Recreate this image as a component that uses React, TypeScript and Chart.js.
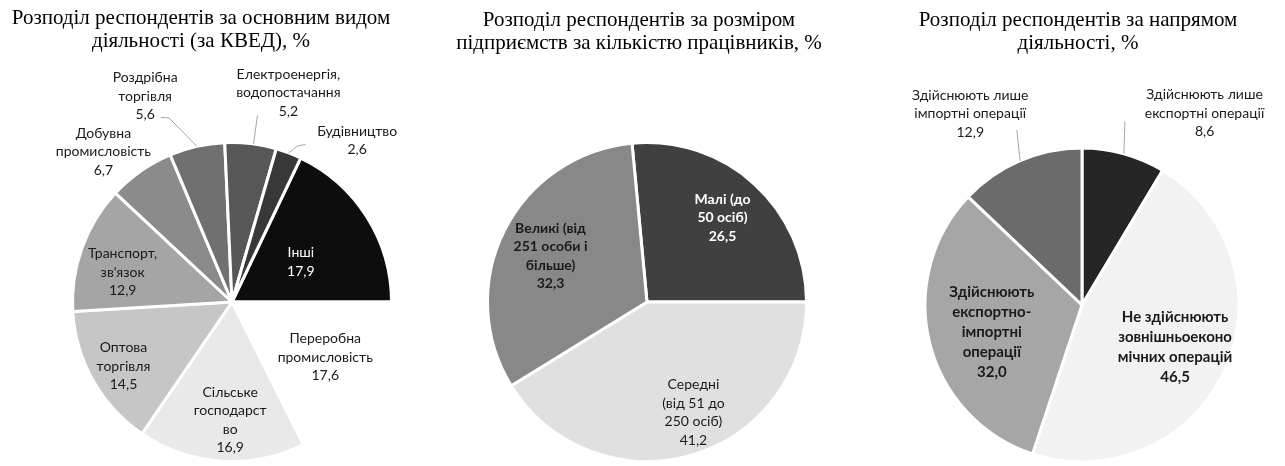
import React, { useEffect, useRef } from "react";
import { Chart, registerables } from "chart.js";

Chart.register(...registerables);

// ---------- DATA ----------
const kvedTitle = ["Розподіл респондентів за основним видом", "діяльності (за КВЕД), %"];
const kvedCategories = [
  ["Інші"],
  ["Переробна", "промисловість"],
  ["Сільське", "господарст", "во"],
  ["Оптова", "торгівля"],
  ["Транспорт,", "зв'язок"],
  ["Добувна", "промисловість"],
  ["Роздрібна", "торгівля"],
  ["Електроенергія,", "водопостачання"],
  ["Будівництво"],
];
const kvedValues = [17.9, 17.6, 16.9, 14.5, 12.9, 6.7, 5.6, 5.2, 2.6];

const sizeTitle = ["Розподіл респондентів за розміром", "підприємств за кількістю працівників, %"];
const sizeCategories = [
  ["Малі (до", "50 осіб)"],
  ["Середні", "(від 51 до", "250 осіб)"],
  ["Великі (від", "251 особи і", "більше)"],
];
const sizeValues = [26.5, 41.2, 32.3];

const directionTitle = ["Розподіл респондентів за напрямом", "діяльності, %"];
const directionCategories = [
  ["Здійснюють лише", "експортні операції"],
  ["Не здійснюють", "зовнішньоеконо", "мічних операцій"],
  ["Здійснюють", "експортно-", "імпортні", "операції"],
  ["Здійснюють лише", "імпортні операції"],
];
const directionValues = [8.6, 46.5, 32.0, 12.9];

// ---------- STYLES ----------
const kvedColors = ["#0d0d0d", "#ffffff", "#e9e9e9", "#c6c6c6", "#a5a5a5", "#8b8b8b", "#707070", "#575757", "#383838"];
const sizeColors = ["#404040", "#e0e0e0", "#888888"];
const directionColors = ["#262626", "#f2f2f2", "#a6a6a6", "#6b6b6b"];

type Placement = {
  k: number;
  d: number;
  color?: string;
  bold?: boolean;
  size?: number;
  lh?: number;
  leader?: [number, number][];
};

const kvedPlacements: Placement[] = [
  { k: 0.5, d: 2, color: "#ffffff" },
  { k: 0.68, d: -1 },
  { k: 0.74, d: -3 },
  { k: 0.79, d: -1 },
  { k: 0.71, d: -4.7 },
  { k: 1.24, d: -5.7 },
  { k: 1.4, d: -10.2, leader: [[1.0, 0], [1.22, -6.2], [1.24, -8.4]] },
  { k: 1.36, d: 8.3, leader: [[1.0, 1.0], [1.18, 1.0]] },
  { k: 1.28, d: 17, leader: [[1.0, 0], [1.06, 1.9], [1.09, 4.2]] },
];
const sizePlacements: Placement[] = [
  { k: 0.71, d: -0.5, color: "#ffffff", bold: true },
  { k: 0.75, d: -7 },
  { k: 0.67, d: -1, bold: true },
];
const directionPlacements: Placement[] = [
  { k: 1.45, d: 17.1, leader: [[1.0, 0], [1.2, -2.3]] },
  { k: 0.65, d: -0.4, bold: true, size: 15, lh: 20 },
  { k: 0.6, d: -2.7, bold: true, size: 15, lh: 20 },
  { k: 1.41, d: -7.1, leader: [[1.0, 0], [1.19, 2.8]] },
];

const LABEL_FONT = "Lato, 'Open Sans', sans-serif";
const fmt = (v: number) => v.toFixed(1).replace(".", ",");

function makeLabelPlugin(categories: string[][], values: number[], placements: Placement[]) {
  return {
    id: "pieLabels",
    afterDatasetsDraw(chart: any) {
      const ctx: CanvasRenderingContext2D = chart.ctx;
      const meta = chart.getDatasetMeta(0);
      meta.data.forEach((arc: any, i: number) => {
        const p = placements[i];
        if (!p) return;
        const { x, y, startAngle, endAngle, outerRadius } = arc.getProps(
          ["x", "y", "startAngle", "endAngle", "outerRadius"],
          true
        );
        const mid = (startAngle + endAngle) / 2;
        const toXY = (k: number, d: number) => {
          const a = mid + (d * Math.PI) / 180;
          return [x + Math.cos(a) * outerRadius * k, y + Math.sin(a) * outerRadius * k];
        };
        ctx.save();
        if (p.leader) {
          ctx.strokeStyle = "#a6a6a6";
          ctx.lineWidth = 1;
          ctx.beginPath();
          p.leader.forEach(([k, d], j) => {
            const [lx, ly] = toXY(k, d);
            if (j === 0) ctx.moveTo(lx, ly);
            else ctx.lineTo(lx, ly);
          });
          ctx.stroke();
        }
        const lines = [...categories[i], fmt(values[i])];
        const size = p.size ?? 14;
        const lh = p.lh ?? 18.5;
        const [cx, cy] = toXY(p.k, p.d);
        ctx.font = `${p.bold ? "bold " : ""}${size}px ${LABEL_FONT}`;
        ctx.fillStyle = p.color ?? "#1a1a1a";
        ctx.textAlign = "center";
        ctx.textBaseline = "middle";
        const top = cy - ((lines.length - 1) * lh) / 2;
        lines.forEach((t, j) => ctx.fillText(t, cx, top + j * lh));
        ctx.restore();
      });
    },
  };
}

type PieProps = {
  left: number;
  width: number;
  padding: { left: number; right: number; top: number; bottom: number };
  rotation: number;
  categories: string[][];
  values: number[];
  colors: string[];
  placements: Placement[];
};

function Pie({ left, width, padding, rotation, categories, values, colors, placements }: PieProps) {
  const ref = useRef<HTMLCanvasElement | null>(null);
  useEffect(() => {
    if (!ref.current) return;
    const chart = new Chart(ref.current, {
      type: "pie",
      data: {
        labels: categories.map((c) => c.join(" ")),
        datasets: [
          {
            data: values,
            backgroundColor: colors,
            borderColor: "#ffffff",
            borderWidth: 3,
          },
        ],
      },
      options: {
        responsive: false,
        animation: false,
        devicePixelRatio: 1,
        rotation,
        layout: { padding },
        plugins: {
          legend: { display: false },
          tooltip: { enabled: false },
          title: { display: false },
        },
        events: [],
      },
      plugins: [makeLabelPlugin(categories, values, placements)],
    });
    return () => chart.destroy();
  }, []);
  return (
    <canvas
      ref={ref}
      width={width}
      height={466}
      style={{ position: "absolute", left, top: 0, width, height: 466 }}
    />
  );
}

function Title({ left, width, top, lines }: { left: number; width: number; top: number; lines: string[] }) {
  return (
    <div
      style={{
        position: "absolute",
        left,
        top,
        width,
        textAlign: "center",
        fontFamily: "'Liberation Serif', 'Times New Roman', serif",
        fontSize: 21,
        lineHeight: "23px",
        color: "#000",
        whiteSpace: "nowrap",
        pointerEvents: "none",
      }}
    >
      {lines.map((l, i) => (
        <div key={i}>{l}</div>
      ))}
    </div>
  );
}

export default function App() {
  return (
    <div style={{ position: "absolute", left: 0, top: 0, width: 1285, height: 466, background: "#fff", overflow: "hidden" }}>
      <Pie
        left={0}
        width={420}
        padding={{ left: 71, right: 27, top: 141, bottom: 3 }}
        rotation={25.5}
        categories={kvedCategories}
        values={kvedValues}
        colors={kvedColors}
        placements={kvedPlacements}
      />
      <Pie
        left={430}
        width={430}
        padding={{ left: 56, right: 52, top: 141, bottom: 3 }}
        rotation={-5.4}
        categories={sizeCategories}
        values={sizeValues}
        colors={sizeColors}
        placements={sizePlacements}
      />
      <Pie
        left={860}
        width={425}
        padding={{ left: 63.5, right: 44.5, top: 146.5, bottom: 2.5 }}
        rotation={0}
        categories={directionCategories}
        values={directionValues}
        colors={directionColors}
        placements={directionPlacements}
      />
      <Title left={0} width={402} top={6} lines={kvedTitle} />
      <Title left={430} width={418} top={8} lines={sizeTitle} />
      <Title left={870} width={416} top={8} lines={directionTitle} />
    </div>
  );
}
